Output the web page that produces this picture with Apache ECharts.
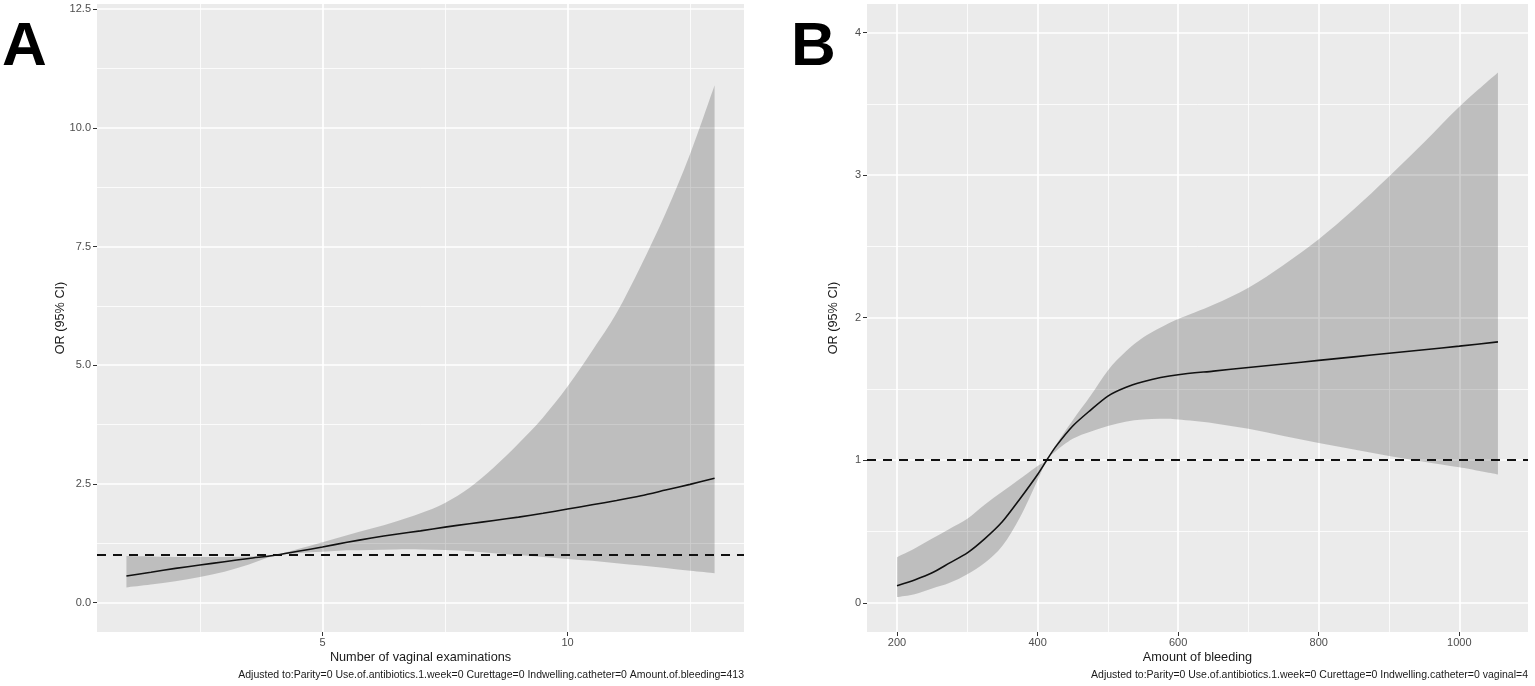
<!DOCTYPE html>
<html><head><meta charset="utf-8">
<script src="https://cdn.jsdelivr.net/npm/echarts@6/dist/echarts.min.js"></script>
<style>html,body{margin:0;padding:0;background:#fff}#c{width:1535px;height:686px}</style>
</head><body><div id="c"></div>
<script>
// ---- Panel A: Number of vaginal examinations ----
const examX     = [1,1.5,2,2.5,3,3.5,4,4.5,5,5.5,6,6.5,7,7.5,8,8.5,9,9.5,10,10.5,11,11.5,12,12.5,13];
const examOR    = [0.56,0.64,0.72,0.79,0.86,0.93,0.99,1.08,1.17,1.27,1.36,1.44,1.51,1.59,1.66,1.73,1.80,1.88,1.97,2.06,2.15,2.25,2.37,2.49,2.62];
const examUpper = [0.98,0.97,0.96,0.96,0.96,0.97,1.00,1.13,1.27,1.42,1.56,1.71,1.88,2.10,2.42,2.85,3.35,3.90,4.55,5.30,6.10,7.10,8.20,9.45,10.90];
const examLower = [0.32,0.38,0.45,0.54,0.65,0.80,0.98,1.04,1.07,1.10,1.11,1.12,1.12,1.11,1.08,1.04,1.00,0.96,0.92,0.88,0.83,0.78,0.73,0.67,0.62];
const examXTicks = [5,10];
const examXMinor = [2.5,7.5,12.5];
const examYTicks = [0,2.5,5,7.5,10,12.5];
const examYMinor = [1.25,3.75,6.25,8.75,11.25];

// ---- Panel B: Amount of bleeding ----
const bleedX     = [200,225,250,275,300,325,350,375,400,413,425,450,475,500,525,550,575,600,650,700,750,800,850,900,950,1000,1055];
const bleedOR    = [0.12,0.16,0.21,0.28,0.35,0.45,0.57,0.73,0.90,1.00,1.09,1.24,1.35,1.45,1.51,1.55,1.58,1.60,1.625,1.65,1.675,1.70,1.725,1.75,1.775,1.80,1.83];
const bleedUpper = [0.32,0.38,0.45,0.52,0.59,0.69,0.78,0.87,0.96,1.00,1.10,1.28,1.45,1.63,1.76,1.86,1.93,1.99,2.09,2.21,2.37,2.55,2.76,2.99,3.23,3.48,3.72];
const bleedLower = [0.04,0.06,0.10,0.14,0.20,0.28,0.40,0.60,0.86,1.00,1.06,1.15,1.20,1.24,1.27,1.285,1.29,1.285,1.26,1.22,1.17,1.12,1.075,1.03,0.99,0.95,0.90];
const bleedXTicks = [200,400,600,800,1000];
const bleedXMinor = [300,500,700,900];
const bleedYTicks = [0,1,2,3,4];
const bleedYMinor = [0.5,1.5,2.5,3.5];

const refLine = 1;
const labelsText = {
  panelA: 'A', panelB: 'B',
  xTitleA: 'Number of vaginal examinations',
  xTitleB: 'Amount of bleeding',
  yTitle: 'OR (95% CI)',
  captionA: 'Adjusted to:Parity=0 Use.of.antibiotics.1.week=0 Curettage=0 Indwelling.catheter=0 Amount.of.bleeding=413',
  captionB: 'Adjusted to:Parity=0 Use.of.antibiotics.1.week=0 Curettage=0 Indwelling.catheter=0 vaginal=4'
};

const FONT = "'Liberation Sans', Arial, sans-serif";
const chart = echarts.init(document.getElementById('c'), null, {renderer: 'canvas'});

function majorAxis(gridIndex, min, max, ticks, fmt, isY) {
  return {
    type: 'value', gridIndex, min, max,
    axisLine: {show: false, onZero: false},
    axisTick: {show: true, length: 4, inside: false, customValues: ticks, lineStyle: {color: '#333', width: 1}},
    axisLabel: {show: true, customValues: ticks, formatter: fmt, color: '#4d4d4d', fontSize: 11, fontFamily: FONT, margin: isY ? 6 : 5},
    splitLine: {show: true, lineStyle: {color: '#ffffff', width: 1.7}},
    minorTick: {show: false}, minorSplitLine: {show: false}
  };
}
function minorAxis(gridIndex, min, max, ticks) {
  return {
    type: 'value', gridIndex, min, max,
    axisLine: {show: false, onZero: false},
    axisTick: {show: false, customValues: ticks},
    axisLabel: {show: false},
    splitLine: {show: true, lineStyle: {color: '#ffffff', width: 0.8}}
  };
}
// Catmull-Rom through pixel points -> SVG path segment
function crPath(p, start) {
  let d = start ? 'M' + p[0][0] + ' ' + p[0][1] : 'L' + p[0][0] + ' ' + p[0][1];
  for (let i = 0; i < p.length - 1; i++) {
    const p0 = p[Math.max(i - 1, 0)], p1 = p[i], p2 = p[i + 1], p3 = p[Math.min(i + 2, p.length - 1)];
    const c1x = p1[0] + (p2[0] - p0[0]) / 6, c1y = p1[1] + (p2[1] - p0[1]) / 6;
    const c2x = p2[0] - (p3[0] - p1[0]) / 6, c2y = p2[1] - (p3[1] - p1[1]) / 6;
    d += 'C' + c1x + ' ' + c1y + ' ' + c2x + ' ' + c2y + ' ' + p2[0] + ' ' + p2[1];
  }
  return d;
}
function band(xi, yi, xs, up, lo) {
  return {
    type: 'custom', xAxisIndex: xi, yAxisIndex: yi, silent: true, z: 2,
    data: [[xs[0], lo[0]]],
    renderItem: function (params, api) {
      const top = xs.map((x, i) => api.coord([x, up[i]]));
      const bot = xs.map((x, i) => api.coord([x, lo[i]])).reverse();
      const d = crPath(top, true) + crPath(bot, false) + 'Z';
      return {type: 'path', shape: {pathData: d}, style: {fill: 'rgba(0,0,0,0.19)'}};
    }
  };
}
function orLine(xi, yi, xs, ys) {
  return {
    type: 'line', xAxisIndex: xi, yAxisIndex: yi, z: 4, silent: true,
    data: xs.map((x, i) => [x, ys[i]]),
    symbol: 'none', smooth: 0.25,
    lineStyle: {color: '#111', width: 1.6},
    markLine: {
      silent: true, symbol: ['none', 'none'], label: {show: false},
      lineStyle: {color: '#111', type: [9, 7], width: 2},
      data: [{yAxis: refLine}]
    }
  };
}

const fmt1 = v => Number(v).toFixed(1);
const fmt0 = v => String(v);

const option = {
  animation: false,
  backgroundColor: '#ffffff',
  grid: [
    {left: 97, top: 4, width: 647, height: 628, show: true, backgroundColor: '#ebebeb', borderWidth: 0},
    {left: 867, top: 4, width: 661, height: 628, show: true, backgroundColor: '#ebebeb', borderWidth: 0}
  ],
  xAxis: [
    majorAxis(0, 0.4, 13.6, examXTicks, fmt0, false),
    minorAxis(0, 0.4, 13.6, examXMinor),
    majorAxis(1, 157.25, 1097.75, bleedXTicks, fmt0, false),
    minorAxis(1, 157.25, 1097.75, bleedXMinor)
  ],
  yAxis: [
    majorAxis(0, -0.62, 12.61, examYTicks, fmt1, true),
    minorAxis(0, -0.62, 12.61, examYMinor),
    majorAxis(1, -0.205, 4.2, bleedYTicks, fmt0, true),
    minorAxis(1, -0.205, 4.2, bleedYMinor)
  ],
  series: [
    band(0, 0, examX, examUpper, examLower),
    orLine(0, 0, examX, examOR),
    band(2, 2, bleedX, bleedUpper, bleedLower),
    orLine(2, 2, bleedX, bleedOR)
  ],
  graphic: [
    {type: 'text', style: {text: labelsText.panelA, x: 2, y: 48, align: 'left', verticalAlign: 'middle', fontSize: 62, fontWeight: 'bold', fontFamily: FONT, fill: '#000'}},
    {type: 'text', style: {text: labelsText.panelB, x: 791, y: 48, align: 'left', verticalAlign: 'middle', fontSize: 62, fontWeight: 'bold', fontFamily: FONT, fill: '#000'}},
    {type: 'text', style: {text: labelsText.xTitleA, x: 420.5, y: 657, align: 'center', verticalAlign: 'middle', fontSize: 12.7, fontFamily: FONT, fill: '#1a1a1a'}},
    {type: 'text', style: {text: labelsText.xTitleB, x: 1197.5, y: 657, align: 'center', verticalAlign: 'middle', fontSize: 12.7, fontFamily: FONT, fill: '#1a1a1a'}},
    {type: 'text', x: 60, y: 318, rotation: Math.PI / 2, style: {text: labelsText.yTitle, x: 0, y: 0, align: 'center', verticalAlign: 'middle', fontSize: 12.7, fontFamily: FONT, fill: '#1a1a1a'}},
    {type: 'text', x: 833, y: 318, rotation: Math.PI / 2, style: {text: labelsText.yTitle, x: 0, y: 0, align: 'center', verticalAlign: 'middle', fontSize: 12.7, fontFamily: FONT, fill: '#1a1a1a'}},
    {type: 'text', style: {text: labelsText.captionA, x: 744, y: 675, align: 'right', verticalAlign: 'middle', fontSize: 10.5, fontFamily: FONT, fill: '#1a1a1a'}},
    {type: 'text', style: {text: labelsText.captionB, x: 1528, y: 675, align: 'right', verticalAlign: 'middle', fontSize: 10.5, fontFamily: FONT, fill: '#1a1a1a'}}
  ]
};
chart.setOption(option);
</script>
</body></html>
